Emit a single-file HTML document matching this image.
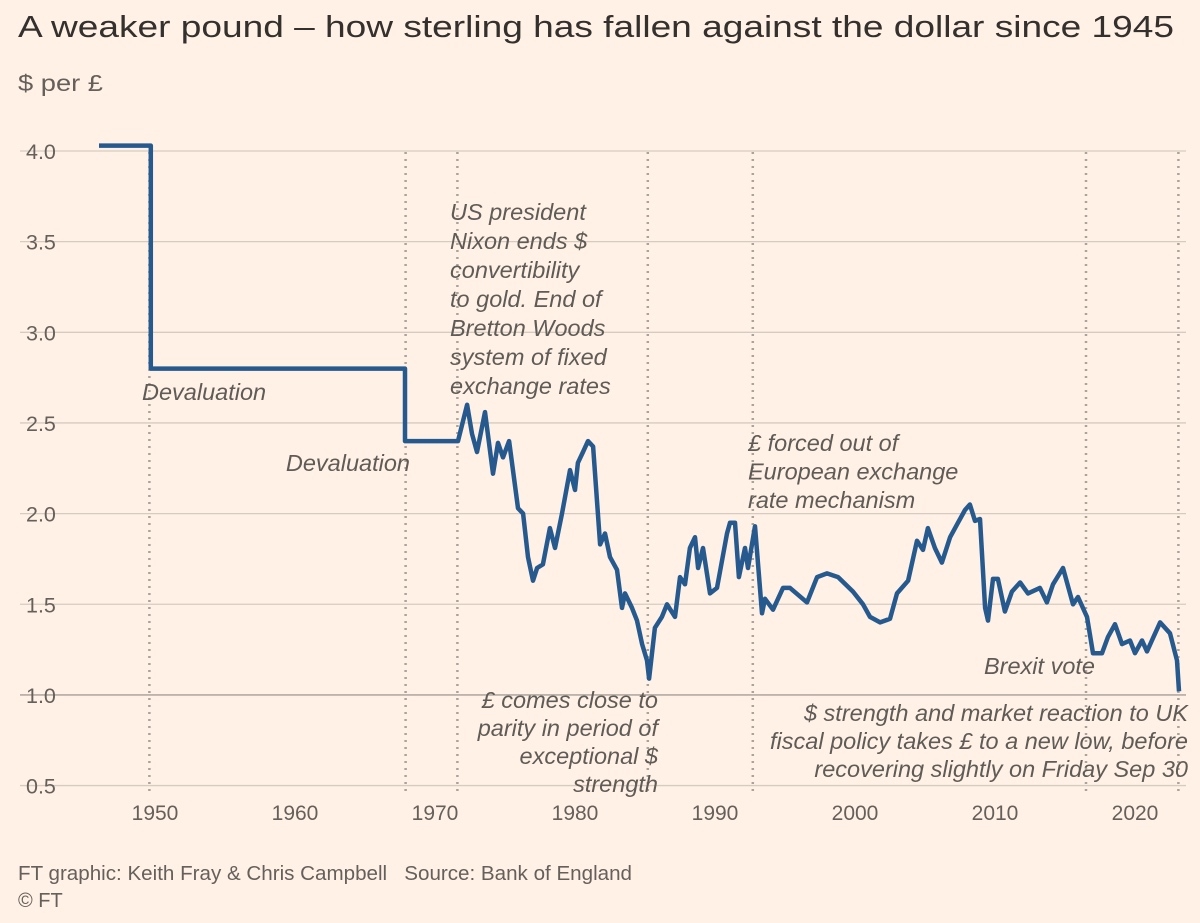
<!DOCTYPE html>
<html><head><meta charset="utf-8">
<style>
html,body{margin:0;padding:0;background:#fff1e5;}
svg{display:block;font-family:"Liberation Sans",sans-serif;}
.ann{font-style:italic;font-size:23.5px;fill:#5f5b57;}
.yt{font-size:21.5px;fill:#66605c;}
.xt{font-size:21px;fill:#66605c;text-anchor:middle;}
</style></head>
<body>
<svg id="chart" width="1200" height="923" viewBox="0 0 1200 923">
<rect x="0" y="0" width="1200" height="923" fill="#fff1e5"/>
<text x="18" y="37" font-size="31" fill="#33302e" textLength="1156" lengthAdjust="spacingAndGlyphs">A weaker pound – how sterling has fallen against the dollar since 1945</text>
<text x="18" y="91" font-size="23" fill="#66605c" textLength="85" lengthAdjust="spacingAndGlyphs">$ per £</text>
<g id="grid"></g>
<g id="vlines"></g>
<g id="yticks"></g>
<g id="xticks"></g>
<path id="series" fill="none" stroke="#265a8e" stroke-width="4.5" stroke-linejoin="round"/>
<g>
<text class="ann" x="450" y="220"><tspan x="450">US president</tspan><tspan x="450" dy="29">Nixon ends $</tspan><tspan x="450" dy="29">convertibility</tspan><tspan x="450" dy="29">to gold. End of</tspan><tspan x="450" dy="29">Bretton Woods</tspan><tspan x="450" dy="29">system of fixed</tspan><tspan x="450" dy="29">exchange rates</tspan></text>
<text class="ann" x="142" y="400">Devaluation</text>
<text class="ann" x="410" y="471" text-anchor="end">Devaluation</text>
<text class="ann" x="748" y="451"><tspan x="748">£ forced out of</tspan><tspan x="748" dy="28.5">European exchange</tspan><tspan x="748" dy="28.5">rate mechanism</tspan></text>
<text class="ann" x="658" y="708" text-anchor="end"><tspan x="658">£ comes close to</tspan><tspan x="658" dy="28">parity in period of</tspan><tspan x="658" dy="28">exceptional $</tspan><tspan x="658" dy="28">strength</tspan></text>
<text class="ann" x="1095" y="674" text-anchor="end">Brexit vote</text>
<text class="ann" x="1188" y="721" text-anchor="end"><tspan x="1188">$ strength and market reaction to UK</tspan><tspan x="1188" dy="28">fiscal policy takes £ to a new low, before</tspan><tspan x="1188" dy="28">recovering slightly on Friday Sep 30</tspan></text>
</g>
<text x="18" y="880" font-size="20" fill="#66605c" textLength="614" lengthAdjust="spacingAndGlyphs" xml:space="preserve">FT graphic: Keith Fray &amp; Chris Campbell   Source: Bank of England</text>
<text x="18" y="907" font-size="20" fill="#66605c">© FT</text>
</svg>
<script>
const yTickValues = [4.0, 3.5, 3.0, 2.5, 2.0, 1.5, 1.0, 0.5];
const yTickLabels = ["4.0","3.5","3.0","2.5","2.0","1.5","1.0","0.5"];
const xTickYears = [1950,1960,1970,1980,1990,2000,2010,2020];
const eventYears = [1949.6,1967.9,1971.6,1985.2,1992.7,2016.5,2023.1];
const years = [1946,1949.7,1949.7,1967.86,1967.86,1971.64,1972.29,1972.64,1973.0,1973.57,1974.14,1974.5,1974.86,1975.29,1975.93,1976.29,1976.64,1977.0,1977.29,1977.71,1978.21,1978.57,1979.07,1979.64,1980.0,1980.21,1980.57,1980.93,1981.29,1981.79,1982.14,1982.5,1983.0,1983.36,1983.57,1984.07,1984.43,1984.79,1985.14,1985.29,1985.5,1985.71,1986.21,1986.57,1987.14,1987.5,1987.86,1988.21,1988.57,1988.79,1989.14,1989.64,1990.14,1990.36,1990.86,1991.07,1991.43,1991.71,1992.14,1992.36,1992.86,1993.36,1993.57,1994.14,1994.86,1995.36,1996.57,1997.29,1998.0,1998.79,1999.86,2000.57,2001.07,2001.79,2002.5,2003.0,2003.79,2004.43,2004.86,2005.21,2005.71,2006.21,2006.79,2007.36,2007.86,2008.21,2008.57,2008.93,2009.29,2009.5,2009.86,2010.21,2010.71,2011.21,2011.79,2012.36,2013.21,2013.71,2014.14,2014.86,2015.57,2015.93,2016.57,2017.0,2017.64,2018.07,2018.57,2019.07,2019.64,2020.0,2020.5,2020.86,2021.21,2021.79,2022.5,2023.0,2023.14];
const rates = [4.03,4.03,2.80,2.80,2.40,2.40,2.60,2.44,2.34,2.56,2.22,2.39,2.31,2.40,2.03,2.00,1.76,1.63,1.70,1.72,1.92,1.81,2.00,2.24,2.13,2.28,2.34,2.40,2.37,1.83,1.89,1.76,1.69,1.48,1.56,1.48,1.41,1.28,1.19,1.09,1.23,1.37,1.43,1.50,1.43,1.65,1.61,1.81,1.87,1.70,1.81,1.56,1.59,1.68,1.89,1.95,1.95,1.65,1.81,1.70,1.93,1.45,1.53,1.47,1.59,1.59,1.51,1.65,1.67,1.65,1.57,1.50,1.43,1.40,1.42,1.56,1.63,1.85,1.80,1.92,1.81,1.73,1.87,1.95,2.02,2.05,1.96,1.97,1.48,1.41,1.64,1.64,1.46,1.57,1.62,1.56,1.59,1.51,1.61,1.70,1.50,1.54,1.43,1.23,1.23,1.32,1.39,1.28,1.30,1.23,1.30,1.24,1.30,1.40,1.34,1.19,1.02];

const NS = "http://www.w3.org/2000/svg";
function xs(yr){ return 155 + (yr - 1950) * 14; }
function ys(v){ return 151 + (4.0 - v) * 181.3; }
function mk(tag, attrs, parent){ const e = document.createElementNS(NS, tag); for (const k in attrs) e.setAttribute(k, attrs[k]); parent.appendChild(e); return e; }

const grid = document.getElementById('grid');
const yt = document.getElementById('yticks');
yTickValues.forEach((v, i) => {
  const l = mk('line', {x1: 20, x2: 1186, y1: ys(v), y2: ys(v), stroke: v === 1.0 ? '#b3aba4' : '#d6cbc1', 'stroke-width': v === 1.0 ? 1.6 : 1.3}, grid);
  
  
  const t = mk('text', {x: 26, y: ys(v) + 8, class: 'yt'}, yt);
  t.textContent = yTickLabels[i];
  
  
});
const xt = document.getElementById('xticks');
xTickYears.forEach(yr => {
  const t = mk('text', {x: xs(yr), y: 820, class: 'xt'}, xt);
  t.textContent = String(yr);
  
  
});
const vl = document.getElementById('vlines');
eventYears.forEach(yr => {
  const l = mk('line', {x1: xs(yr), x2: xs(yr), y1: 152, y2: 792, stroke: '#aaa39c', 'stroke-width': 2.5, 'stroke-dasharray': '2 5'}, vl);
  
  
});
let d = '';
years.forEach((yr, i) => { d += (i ? 'L' : 'M') + xs(yr).toFixed(1) + ',' + ys(rates[i]).toFixed(1); });
document.getElementById('series').setAttribute('d', d);
</script>
</body></html>
